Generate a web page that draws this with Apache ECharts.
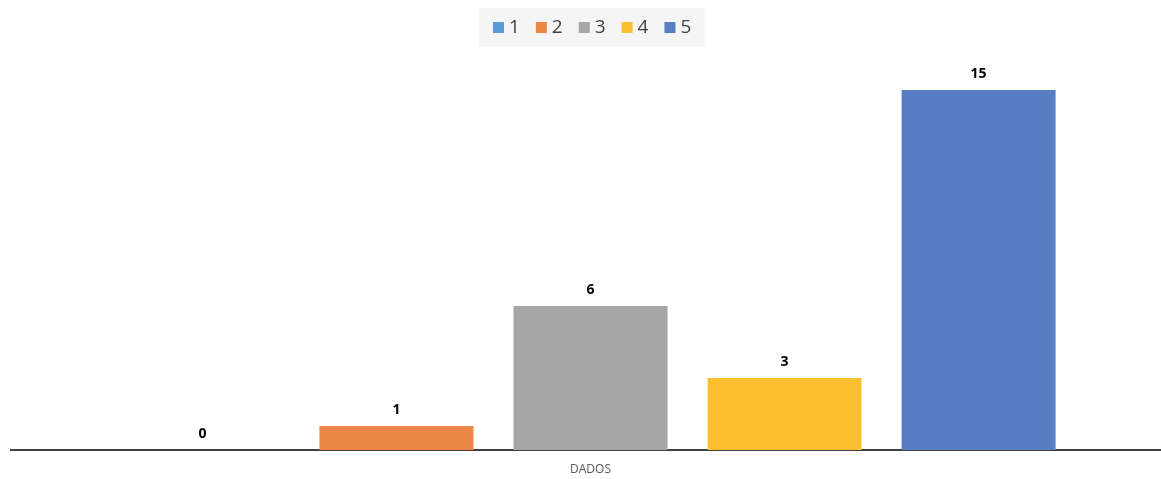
<!DOCTYPE html>
<html>
<head>
<meta charset="utf-8">
<script src="https://cdn.jsdelivr.net/npm/echarts@6/dist/echarts.min.js"></script>
<style>
  html, body { margin: 0; padding: 0; background: #ffffff; }
  #chart { width: 1161px; height: 479px; }
</style>
</head>
<body>
<div id="chart"></div>
<script>
// Single category, one bar per rating value
const categories = ['DADOS'];
const seriesNames = ['1', '2', '3', '4', '5'];
const seriesValues = [0, 1, 6, 3, 15];
const seriesColors = ['#5B9BD5', '#EC8548', '#A6A6A6', '#FDBF2D', '#577DC4'];

const chart = echarts.init(document.getElementById('chart'), null, { renderer: 'canvas' });

const series = seriesNames.map((name, i) => ({
  name: name,
  type: 'bar',
  data: [seriesValues[i]],
  barWidth: 154,
  barGap: '26%',
  itemStyle: { color: seriesColors[i] },
  label: {
    show: true,
    position: 'top',
    distance: 9,
    color: '#000000',
    fontWeight: 'bold',
    fontSize: 14,
    fontFamily: 'Open Sans'
  }
}));

const gridLeft = 20;
const gridBottom = 29;

chart.setOption({
  animation: false,
  backgroundColor: '#ffffff',
  legend: {
    top: 8,
    left: 479,
    data: seriesNames,
    itemWidth: 11,
    itemHeight: 11,
    itemGap: 16,
    icon: 'rect',
    padding: [10, 14],
    backgroundColor: '#f5f5f5',
    textStyle: { fontSize: 19, color: '#404040', fontFamily: 'Open Sans' }
  },
  grid: { left: gridLeft, right: 0, top: 66, bottom: gridBottom, containLabel: false },
  xAxis: {
    type: 'category',
    data: categories,
    axisLine: { show: true, lineStyle: { color: '#404040', width: 2 } },
    axisTick: { show: false },
    axisLabel: { color: '#595959', fontSize: 12, margin: 14, fontFamily: 'Open Sans' }
  },
  yAxis: {
    type: 'value',
    min: 0,
    max: 16,
    show: false,
    splitLine: { show: false }
  },
  // baseline continues a little to the left of the plot area
  graphic: [{
    type: 'line',
    shape: { x1: 10, y1: 479 - gridBottom, x2: gridLeft + 1, y2: 479 - gridBottom },
    style: { stroke: '#404040', lineWidth: 2 },
    silent: true
  }],
  series: series
});
</script>
</body>
</html>
